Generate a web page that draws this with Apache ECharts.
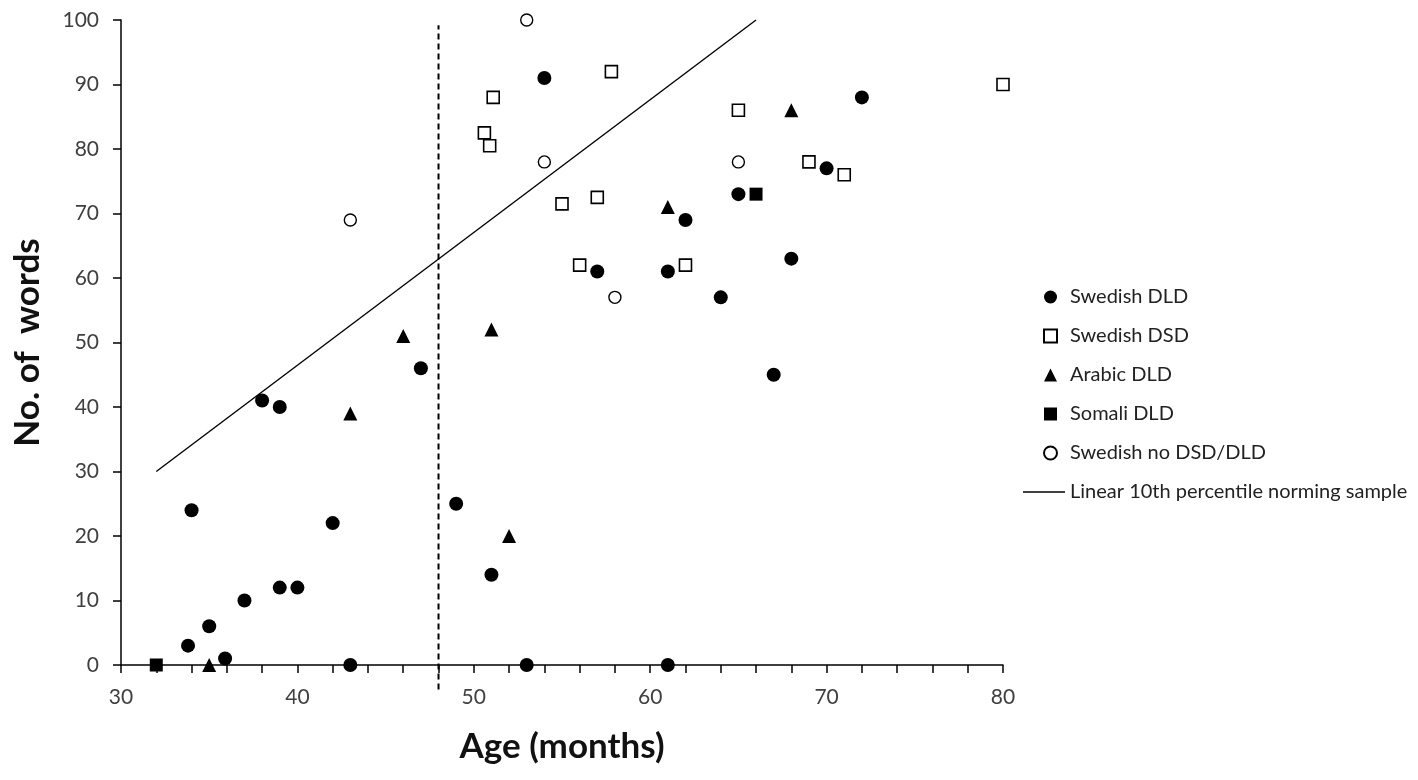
<!DOCTYPE html>
<html>
<head>
<meta charset="utf-8">
<script src="https://cdn.jsdelivr.net/npm/echarts@6/dist/echarts.min.js"></script>
<style>
  html, body { margin: 0; padding: 0; background: #fff; }
  #chart { width: 1418px; height: 780px; }
</style>
</head>
<body>
<div id="chart"></div>
<script>
// [age in months, no. of words]
var swedishDLD = [
    [54, 91], [72, 88], [70, 77], [65, 73], [62, 69], [57, 61], [61, 61], [68, 63],
    [64, 57], [67, 45], [47, 46], [38, 41], [39, 40], [34, 24], [42, 22], [49, 25],
    [51, 14], [39, 12], [40, 12], [37, 10], [35, 6], [33.8, 3], [35.9, 1], [43, 0],
    [53, 0], [61, 0]
];
var swedishDSD = [
    [80, 90], [57.8, 92], [51.1, 88], [50.6, 82.5], [50.9, 80.5], [65, 86],
    [69, 78], [71, 76], [55, 71.5], [57, 72.5], [56, 62], [62, 62]
];
var arabicDLD = [[35, 0], [43, 39], [46, 51], [51, 52], [52, 20], [61, 71], [68, 86]];
var somaliDLD = [[32, 0], [66, 73]];
var swedishNone = [[53, 100], [54, 78], [43, 69], [58, 57], [65, 78]];

// linear 10th percentile line of the norming sample (end points)
var normAge = [32, 66];
var normWords = [30, 100];

// vertical reference at 48 months
var cutAge = 48;
var cutRange = [-3.8, 99.2];

var xTicks = [30, 40, 50, 60, 70, 80];
var yTicks = [0, 10, 20, 30, 40, 50, 60, 70, 80, 90, 100];

var groupNames = ['Swedish DLD', 'Swedish DSD', 'Arabic DLD', 'Somali DLD', 'Swedish no DSD/DLD'];
var lineName = 'Linear 10th percentile norming sample';

var myChart = echarts.init(document.getElementById('chart'));

var font = 'Lato, "Open Sans", sans-serif';
var normLine = normAge.map(function (a, i) { return [a, normWords[i]]; });
var cutLine = cutRange.map(function (v) { return [cutAge, v]; });

var legendText = { fontFamily: font, fontSize: 20, color: '#222', lineHeight: 17 };

var option = {
    backgroundColor: '#fff',
    animation: false,
    grid: { left: 121, right: 415, top: 20, bottom: 115 },
    legend: [
        {
            orient: 'vertical',
            left: 1038,
            top: 282,
            itemWidth: 13,
            itemHeight: 13,
            itemGap: 19,
            textStyle: Object.assign({ padding: [0, 0, 0, 8] }, legendText),
            data: groupNames
        },
        {
            orient: 'vertical',
            left: 1018,
            top: 477,
            itemWidth: 42,
            itemHeight: 1.5,
            icon: 'rect',
            textStyle: legendText,
            data: [lineName]
        }
    ],
    xAxis: {
        type: 'value',
        min: xTicks[0],
        max: xTicks[xTicks.length - 1],
        interval: 10,
        name: 'Age (months)',
        nameLocation: 'middle',
        nameGap: 64,
        nameTextStyle: { fontFamily: font, fontSize: 35, fontWeight: 'bold', color: '#111' },
        axisLine: { onZero: false, lineStyle: { color: '#000', width: 1.5 } },
        axisTick: { show: true, length: 8, lineStyle: { color: '#000', width: 1.5 } },
        minorTick: { show: true, splitNumber: 5, length: 8, lineStyle: { color: '#000', width: 1.5 } },
        axisLabel: { fontFamily: font, fontSize: 21, color: '#404040', margin: 22 },
        splitLine: { show: false }
    },
    yAxis: {
        type: 'value',
        min: yTicks[0],
        max: yTicks[yTicks.length - 1],
        interval: 10,
        name: 'No. of  words',
        nameLocation: 'middle',
        nameGap: 76,
        nameTextStyle: { fontFamily: font, fontSize: 35, fontWeight: 'bold', color: '#111' },
        axisLine: { show: true, lineStyle: { color: '#000', width: 1.5 } },
        axisTick: { show: true, length: 8, lineStyle: { color: '#000', width: 1.5 } },
        axisLabel: { fontFamily: font, fontSize: 21, color: '#404040', margin: 22 },
        splitLine: { show: false }
    },
    series: [
        {
            name: 'Swedish DLD',
            type: 'scatter',
            symbol: 'circle',
            symbolSize: 14,
            itemStyle: { color: '#000', opacity: 1 },
            data: swedishDLD
        },
        {
            name: 'Swedish DSD',
            type: 'scatter',
            symbol: 'rect',
            symbolSize: 12,
            itemStyle: { color: '#fff', borderColor: '#000', borderWidth: 1.6, opacity: 1 },
            data: swedishDSD
        },
        {
            name: 'Arabic DLD',
            type: 'scatter',
            symbol: 'triangle',
            symbolSize: 14,
            itemStyle: { color: '#000', opacity: 1 },
            data: arabicDLD
        },
        {
            name: 'Somali DLD',
            type: 'scatter',
            symbol: 'rect',
            symbolSize: 13,
            itemStyle: { color: '#000', opacity: 1 },
            data: somaliDLD
        },
        {
            name: 'Swedish no DSD/DLD',
            type: 'scatter',
            symbol: 'circle',
            symbolSize: 12,
            itemStyle: { color: '#fff', borderColor: '#000', borderWidth: 1.4, opacity: 1 },
            data: swedishNone
        },
        {
            name: lineName,
            type: 'line',
            symbol: 'none',
            itemStyle: { color: '#000' },
            lineStyle: { color: '#000', width: 1.4 },
            data: normLine,
            z: 1
        },
        {
            name: 'cut',
            type: 'line',
            symbol: 'none',
            clip: false,
            lineStyle: { color: '#000', width: 2, type: [6, 4] },
            data: cutLine,
            z: 1
        }
    ]
};
myChart.setOption(option);
</script>
</body>
</html>
